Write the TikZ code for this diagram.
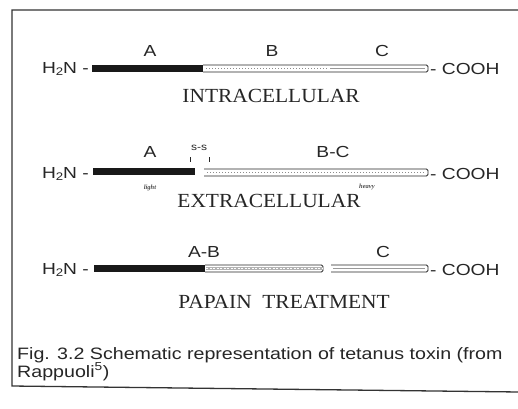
\documentclass[tikz,border=0pt]{standalone}
\usepackage{fontspec}
\usepackage{graphicx}
\setmainfont{Liberation Serif}
\newfontfamily\sansf{Liberation Sans}
\newcommand\wid[2][1.2]{\scalebox{#1}[1]{#2}}
\newcommand\subtw{\raisebox{-0.35ex}{\fontsize{11}{11}\selectfont 2}}
\begin{document}
\begin{tikzpicture}[x=1pt,y=-1pt,
  ink/.style={black!85},
  lbl/.style={font=\sansf\fontsize{16}{16}\selectfont, ink, inner sep=0pt},
  end/.style={font=\sansf\fontsize{16}{16}\selectfont, ink, inner sep=0pt},
  title/.style={font=\fontsize{20}{20}\selectfont, ink, inner sep=0pt},
  tiny/.style={font=\bfseries\itshape\fontsize{6.5}{6.5}\selectfont, black!70, inner sep=0pt},
  capt/.style={font=\sansf\fontsize{16.5}{16.5}\selectfont, ink, inner sep=0pt, anchor=base west},
  blackbar/.style={fill=black!90},
  whitebar/.style={draw=black!85, line width=0.9pt, fill=white, rounded corners=1.5pt},
  stip/.style={draw=black!45, line width=0.7pt, dash pattern=on 1pt off 2pt},
  frame/.style={draw=black!80, line width=1.3pt}
]
\useasboundingbox (0,0) rectangle (518,408);
\fill[white] (0,0) rectangle (518,408);
% frame
\draw[frame] (520,10) -- (12,10) -- (12,386) -- (520,392);

% ---------- Row 1: intracellular
\node[end, anchor=east] (n1) at (89,69) {\wid{H\subtw N -}};
\fill[blackbar] (92,65) rectangle (204,72);
\draw[whitebar] (203,65) -- (428,65) -- (428,72) -- (203,72);
\draw[stip] (206,68.5) -- (328,68.5);
\draw[black!40, line width=0.4pt] (330,68.5) -- (425,68.5);
\node[end, anchor=west] (c1) at (430,69) {\wid{- COOH}};
\node[lbl] (a1) at (150,51) {\wid{A}};
\node[lbl] (b1) at (272,51) {\wid{B}};
\node[lbl] (cc1) at (382,51) {\wid{C}};
\node[title] (t1) at (271,96) {\wid[1.07]{INTRACELLULAR}};

% ---------- Row 2: extracellular
\node[end, anchor=east] (n2) at (89,174) {\wid{H\subtw N -}};
\fill[blackbar] (93,168) rectangle (195,175);
\draw[whitebar] (204,169) -- (428,169) -- (428,176) -- (204,176);
\draw[stip] (207,172.5) -- (425,172.5);
\node[end, anchor=west] (c2) at (430,174) {\wid{- COOH}};
\node[lbl] (a2) at (150,152) {\wid{A}};
\node[font=\sansf\fontsize{10}{10}\selectfont, ink, inner sep=0pt] (ss) at (199,148) {\wid{s-s}};
\draw[ink, line width=0.8pt] (190,157) -- (190,162);
\draw[ink, line width=0.8pt] (209,157) -- (209,162);
\node[lbl] (bc2) at (333,152) {\wid{B-C}};
\node[tiny] (light) at (150,188) {light};
\node[title] (t2) at (269,201) {\wid[1.07]{EXTRACELLULAR}};
\node[tiny] (heavy) at (367,187) {heavy};

% ---------- Row 3: papain treatment
\node[end, anchor=east] (n3) at (89,270) {\wid{H\subtw N -}};
\fill[blackbar] (94,265) rectangle (206,272);
\draw[whitebar] (205,265) -- (323,265) -- (323,272) -- (205,272);
\fill[black!30] (206,267) rectangle (322,270);
\draw[white, line width=0.6pt, dash pattern=on 2pt off 1.5pt] (206,268.5) -- (322,268.5);
\draw[whitebar] (331,265) -- (428,265) -- (428,272) -- (331,272);
\draw[black!40, line width=0.4pt] (333,268.5) -- (425,268.5);
\node[end, anchor=west] (c3) at (430,270) {\wid{- COOH}};
\node[lbl] (ab3) at (204,252) {\wid{A-B}};
\node[lbl] (cc3) at (383,252) {\wid{C}};
\node[title] (t3) at (284,302) {\wid[1.07]{PAPAIN\ \ TREATMENT}};

% ---------- caption
\node[capt] (cap1) at (17,359) {\wid[1.19]{Fig. 3.2 Schematic representation of tetanus toxin (from}};
\node[capt] (cap2) at (17,377) {\wid[1.19]{Rappuoli\textsuperscript{5})}};
\end{tikzpicture}
\end{document}
